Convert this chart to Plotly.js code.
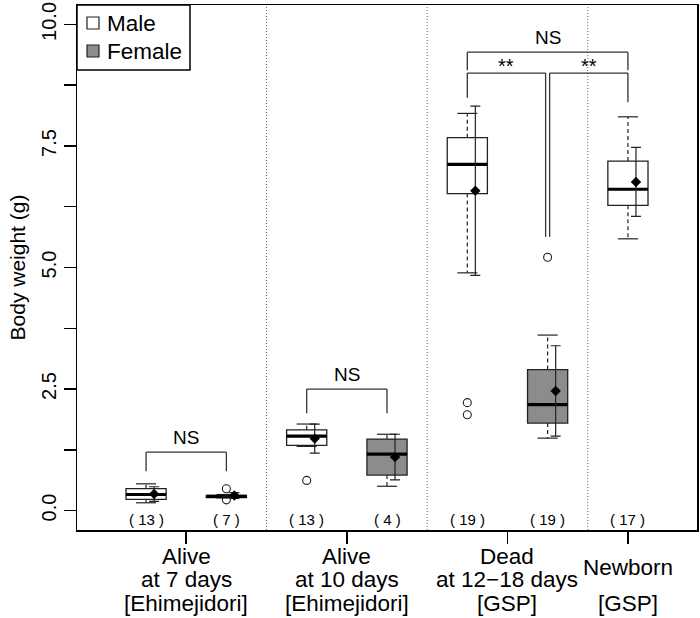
<!DOCTYPE html>
<html><head><meta charset="utf-8">
<script src="https://cdn.plot.ly/plotly-3.0.1.min.js"></script>
<style>body{margin:0;background:#fff}</style>
</head><body><div id="chart" style="width:700px;height:618px"></div>
<script>
// ---- data ----
const seriesNames = ["Male", "Female"];
const positions = [1, 2, 3, 4, 5, 6, 7];
const sexes = ["Male", "Female", "Male", "Female", "Male", "Female", "Male"];
const q1 = [0.23, 0.265, 1.34, 0.73, 6.52, 1.80, 6.28];
const medians = [0.33, 0.29, 1.53, 1.16, 7.12, 2.18, 6.61];
const q3 = [0.45, 0.31, 1.66, 1.47, 7.67, 2.90, 7.19];
const lowerWhisker = [0.16, 0.26, 1.32, 0.50, 4.89, 1.49, 5.59];
const upperWhisker = [0.55, 0.33, 1.78, 1.57, 8.17, 3.61, 8.10];
const means = [0.34, 0.31, 1.48, 1.10, 6.58, 2.46, 6.76];
const sds = [0.15, 0.06, 0.30, 0.47, 1.74, 0.93, 0.71];
const outlierPos = [2, 2, 3, 5, 5, 6];
const outlierVals = [0.45, 0.22, 0.62, 2.22, 1.97, 5.21];
const counts = [13, 7, 13, 4, 19, 19, 17];
const groupPos = [1.5, 3.5, 5.5, 7];
const groupLines = [
  ["Alive", "at 7 days", "[Ehimejidori]"],
  ["Alive", "at 10 days", "[Ehimejidori]"],
  ["Dead", "at 12\u221218 days", "[GSP]"],
  ["Newborn", "[GSP]"]
];
const yTickVals = [0, 1.25, 2.5, 3.75, 5, 6.25, 7.5, 8.75, 10];
const yTickText = ["0.0", "", "2.5", "", "5.0", "", "7.5", "", "10.0"];
const dividers = [2.5, 4.5, 6.5];
// significance brackets: [x1, x2, yTop, leg1Bottom, leg2Bottom, label]
const brackets = [
  [1, 2, 1.2, 0.81, 0.81, "NS"],
  [3, 4, 2.5, 2.0, 2.0, "NS"],
  [5, 7, 9.43, 9.06, 9.06, "NS"],
  [5, 5.975, 9.0, 8.49, 5.63, "**"],
  [6.025, 7, 9.0, 5.63, 8.40, "**"]
];

// ---- styles ----
const FONT = "Liberation Sans, Arial, Helvetica, sans-serif";
const LINE = "#222";
const fills = {Male: "#ffffff", Female: "#8c8c8c"};
const boxW = 0.5, capHalf = 0.125, meanOffset = 0.1;
const lineSlots = [[0, 1, 2], [0, 1, 2], [0, 1, 2], [0.5, 2]];
const lineBase = -26, linePitch = 23.5;

const traces = [];
seriesNames.forEach(sex => {
  const ii = positions.map((p, i) => i).filter(i => sexes[i] === sex);
  traces.push({
    type: "box", name: sex, orientation: "v", showlegend: false,
    x: ii.map(i => positions[i]),
    q1: ii.map(i => q1[i]), median: ii.map(i => medians[i]), q3: ii.map(i => q3[i]),
    lowerfence: ii.map(i => q1[i]), upperfence: ii.map(i => q3[i]),
    width: boxW, whiskerwidth: 0, fillcolor: fills[sex],
    line: {color: LINE, width: 1.3}, boxpoints: false, hoverinfo: "skip"
  });
});

const wx = [], wy = [], cx = [], cy = [], mx = [], my = [];
positions.forEach((p, i) => {
  wx.push(p, p, null, p, p, null);
  wy.push(q3[i], upperWhisker[i], null, q1[i], lowerWhisker[i], null);
  cx.push(p - capHalf, p + capHalf, null, p - capHalf, p + capHalf, null);
  cy.push(upperWhisker[i], upperWhisker[i], null, lowerWhisker[i], lowerWhisker[i], null);
  mx.push(p - boxW / 2, p + boxW / 2, null);
  my.push(medians[i], medians[i], null);
});
traces.push({type: "scatter", mode: "lines", x: wx, y: wy, showlegend: false, hoverinfo: "skip",
  line: {color: LINE, width: 1.2, dash: "4px,3px"}});
traces.push({type: "scatter", mode: "lines", x: cx, y: cy, showlegend: false, hoverinfo: "skip",
  line: {color: LINE, width: 1.2}});
traces.push({type: "scatter", mode: "lines", x: mx, y: my, showlegend: false, hoverinfo: "skip",
  line: {color: "#000", width: 3.2}});
traces.push({type: "scatter", mode: "markers", x: outlierPos, y: outlierVals, showlegend: false,
  marker: {symbol: "circle-open", size: 8, color: LINE, line: {width: 1.1}}});
traces.push({type: "scatter", mode: "markers", x: positions.map(p => p + meanOffset), y: means,
  showlegend: false,
  marker: {symbol: "diamond", size: 8, color: "#000"},
  error_y: {type: "data", array: sds, visible: true, color: LINE, thickness: 1.2, width: 5}});

const shapes = [];
dividers.forEach(d => shapes.push({type: "line", xref: "x", yref: "paper", x0: d, x1: d, y0: 0, y1: 1,
  line: {color: "#666", width: 1, dash: "1px,2px"}, layer: "below"}));
const annotations = [];
brackets.forEach(b => {
  const st = {color: "#333", width: 1.3};
  shapes.push({type: "line", xref: "x", yref: "y", x0: b[0], x1: b[1], y0: b[2], y1: b[2], line: st});
  shapes.push({type: "line", xref: "x", yref: "y", x0: b[0], x1: b[0], y0: b[2], y1: b[3], line: st});
  shapes.push({type: "line", xref: "x", yref: "y", x0: b[1], x1: b[1], y0: b[2], y1: b[4], line: st});
  annotations.push({xref: "x", yref: "y", x: (b[0] + b[1]) / 2, y: b[2], yanchor: "bottom",
    yshift: b[5] === "**" ? -6 : 2, text: b[5], showarrow: false,
    font: {family: FONT, size: b[5] === "**" ? 20 : 19, color: "#000"}});
});
positions.forEach((p, i) => annotations.push({xref: "x", yref: "y", x: p, y: -0.19,
  text: "( " + counts[i] + " )", showarrow: false, font: {family: FONT, size: 15, color: "#000"}}));
groupLines.forEach((lines, g) => lines.forEach((t, k) => annotations.push({
  xref: "x", yref: "paper", x: groupPos[g], y: 0, yanchor: "middle",
  yshift: lineBase - lineSlots[g][k] * linePitch, text: t, showarrow: false,
  font: {family: FONT, size: 22.5, color: "#000"}})));

// legend (drawn in plot-corner pixels)
shapes.push({type: "rect", xref: "paper", yref: "paper", xsizemode: "pixel", ysizemode: "pixel",
  xanchor: 0, yanchor: 1, x0: 0, x1: 113, y0: -65, y1: 0,
  fillcolor: "#fff", line: {color: "#000", width: 1.5}});
seriesNames.forEach((s, k) => {
  const cyPix = -18 - 28 * k;
  shapes.push({type: "rect", xref: "paper", yref: "paper", xsizemode: "pixel", ysizemode: "pixel",
    xanchor: 0, yanchor: 1, x0: 10, x1: 22, y0: cyPix - 6, y1: cyPix + 6,
    fillcolor: fills[s], line: {color: LINE, width: 1.2}});
  annotations.push({xref: "paper", yref: "paper", x: 0, y: 1, xanchor: "left", yanchor: "middle",
    xshift: 28, yshift: cyPix, text: s, showarrow: false,
    font: {family: FONT, size: 22.5, color: "#000"}});
});

const layout = {
  width: 700, height: 618,
  margin: {l: 77, r: 3, t: 5, b: 88},
  paper_bgcolor: "#fff", plot_bgcolor: "#fff",
  font: {family: FONT, color: "#000"},
  boxmode: "overlay",
  showlegend: false,
  xaxis: {range: [0.14, 7.86], tickvals: groupPos, ticktext: groupPos.map(() => ""),
    ticks: "outside", ticklen: 12, tickwidth: 1.5, tickcolor: "#000",
    showline: true, mirror: true, linecolor: "#000", linewidth: 1.5,
    showgrid: false, zeroline: false, fixedrange: true},
  yaxis: {range: [-0.4, 10.4], tickvals: yTickVals, ticktext: yTickText, tickangle: -90,
    ticks: "outside", ticklen: 12, tickwidth: 1.5, tickcolor: "#000",
    tickfont: {family: FONT, size: 20, color: "#000"},
    title: {text: "Body weight (g)", font: {family: FONT, size: 21, color: "#000"}, standoff: 6},
    showline: true, mirror: true, linecolor: "#000", linewidth: 1.5,
    showgrid: false, zeroline: false, fixedrange: true},
  shapes: shapes, annotations: annotations
};
Plotly.newPlot("chart", traces, layout, {displayModeBar: false, staticPlot: true});
</script></body></html>
